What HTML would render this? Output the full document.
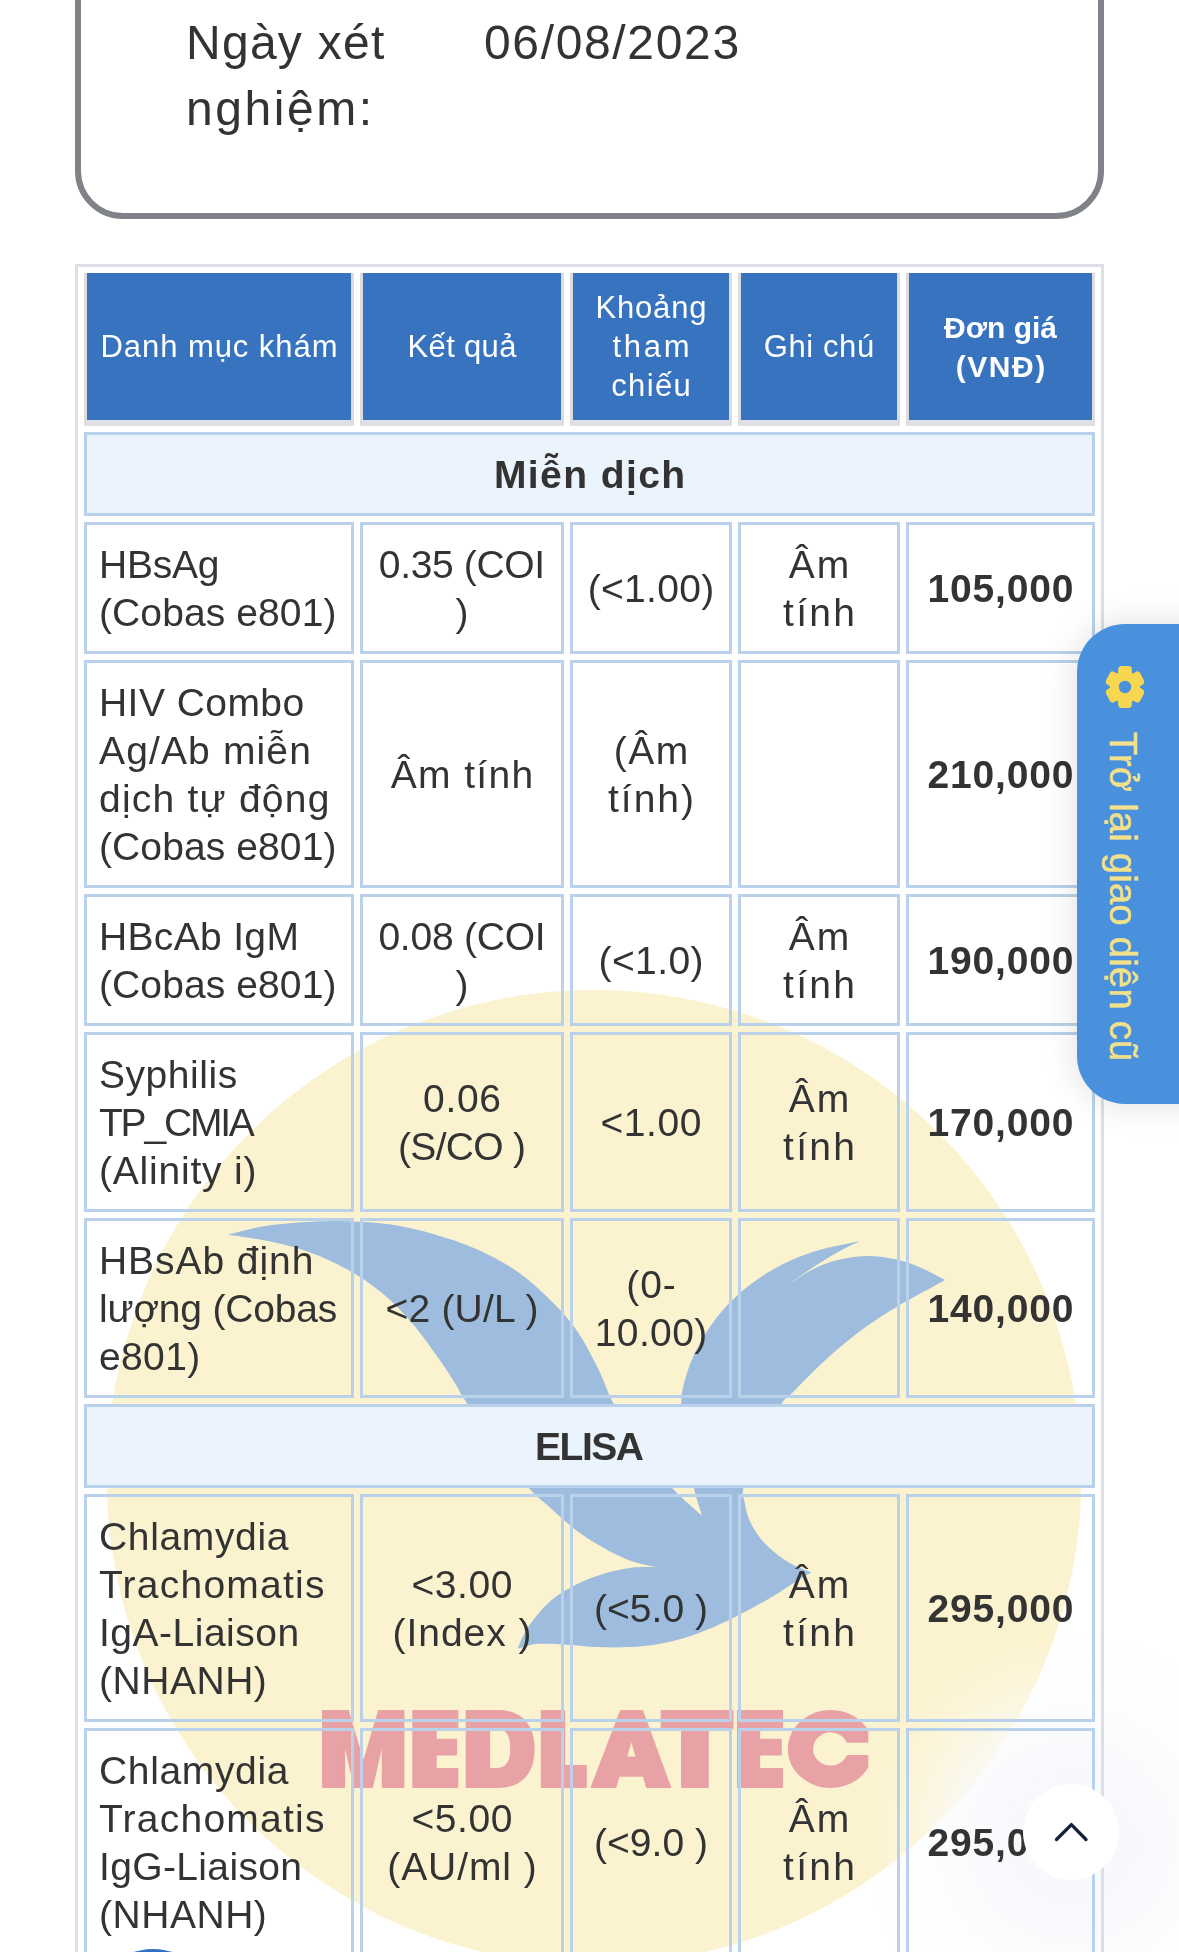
<!DOCTYPE html>
<html lang="vi">
<head>
<meta charset="utf-8">
<title>Kết quả xét nghiệm</title>
<style>
html,body{margin:0;padding:0;width:1179px;height:1952px;overflow:hidden;background:#fff;}
#page{width:1179px;height:1952px;overflow:hidden;background:#fff;position:relative;
  font-family:"Liberation Sans",sans-serif;color:#333;}
.card{position:absolute;left:75px;top:-120px;width:1017px;height:327px;border:6px solid #7f8388;border-radius:48px;background:#fff;}
.lbl{will-change:transform;position:absolute;left:186px;top:10px;font-size:48px;line-height:66px;color:#333;white-space:nowrap;}
.val{will-change:transform;position:absolute;left:484px;top:10px;font-size:48px;line-height:66px;color:#333;white-space:nowrap;}
.wm{position:absolute;left:0;top:0;width:1179px;height:1952px;z-index:0;}
table.rs{position:absolute;left:75px;top:264px;width:1029px;border:3px solid #dcdfe6;border-collapse:separate;border-spacing:6px;table-layout:fixed;z-index:1;will-change:transform;}
table.rs th{background:#3773be;color:#fff;font-weight:normal;font-size:31px;line-height:39px;padding:15px 0 15px 0;
  border-style:solid;border-color:#dcdcdc;border-width:0 3px 6px 3px;border-bottom-color:#dee0e6;height:117px;vertical-align:middle;text-align:center;white-space:nowrap;}
table.rs th.b{font-weight:bold;font-size:30px;}
table.rs td{font-size:39px;line-height:48px;padding:16px 0 14px 0;border:3px solid #b9d1ea;vertical-align:middle;text-align:center;color:#333;white-space:nowrap;}
table.rs td.n{text-align:left;padding-left:12px;}
table.rs td.p{font-weight:bold;}
table.rs td.sec{background:#ebf3fd;font-weight:bold;}
.l{display:inline-block;white-space:nowrap;}
.tab{position:absolute;left:1077px;top:624px;width:130px;height:480px;background:#4990dd;border-radius:48px 0 0 48px;z-index:5;
  box-shadow:0 0 36px rgba(0,0,0,0.13);}
.tab .t{position:absolute;left:24px;top:108px;writing-mode:vertical-rl;font-size:38px;line-height:44px;color:#f1e08c;white-space:nowrap;letter-spacing:0.3px;-webkit-text-stroke:0.5px #f1e08c;}
.tab svg{position:absolute;left:24px;top:39px;}
.up{position:absolute;left:1023px;top:1784px;width:96px;height:96px;border-radius:50%;background:#fff;z-index:6;}
.up svg{position:absolute;left:0;top:0;}
.glow{position:absolute;left:866px;top:1636px;width:410px;height:410px;z-index:0;
  background:radial-gradient(circle closest-side at center,rgba(247,248,251,1) 0,rgba(248,249,252,0.97) 38%,rgba(250,251,253,0.66) 60%,rgba(253,253,254,0.22) 80%,rgba(255,255,255,0) 100%);}
.chat{position:absolute;left:93px;top:1949px;width:120px;height:120px;border-radius:50%;background:#2f6fc4;z-index:6;}
</style>
</head>
<body>
<div id="page">
<div class="card"></div>
<div class="lbl"><span class="l" style="letter-spacing:1.26px;margin-right:-1.26px">Ngày xét</span><br><span class="l" style="letter-spacing:2.56px;margin-right:-2.56px">nghiệm:</span></div>
<div class="val"><span class="l" style="letter-spacing:1.65px;margin-right:-1.65px">06/08/2023</span></div>

<svg class="wm" viewBox="0 0 1179 1952">
  <circle cx="594" cy="1477.5" r="487.5" fill="#fbf3d0"/>
  <path fill="#9dbcde" d="M227.6 1234.8C233.6 1233.4 250.5 1228.4 263.6 1226.3C276.7 1224.2 291.9 1222.8 306.0 1222.0C320.1 1221.2 334.3 1220.8 348.4 1221.2C362.5 1221.6 376.7 1222.5 390.8 1224.6C404.9 1226.7 419.1 1229.9 433.2 1233.9C447.3 1237.9 461.6 1242.5 475.7 1248.8C489.8 1255.1 505.3 1263.2 518.0 1272.0C530.7 1280.8 542.1 1291.9 552.0 1301.8C561.9 1311.7 569.6 1320.2 577.4 1331.5C585.2 1342.8 592.6 1357.6 598.6 1369.6C604.6 1381.6 606.6 1390.7 613.5 1403.6C620.4 1416.5 630.2 1432.9 640.0 1447.0C649.8 1461.1 662.1 1476.8 672.5 1488.3C682.9 1499.8 697.2 1511.2 702.1 1515.8C700.7 1511.2 696.9 1500.9 693.9 1488.3C690.9 1475.7 686.1 1454.2 684.0 1440.0C681.9 1425.8 680.9 1413.5 681.2 1403.0C681.5 1392.5 683.2 1385.9 685.8 1377.0C688.3 1368.1 691.9 1358.8 696.5 1349.6C701.1 1340.4 706.9 1330.7 713.3 1322.0C719.7 1313.3 726.6 1305.3 734.7 1297.7C742.8 1290.1 752.3 1282.7 762.0 1276.3C771.7 1269.9 782.5 1264.1 792.7 1259.5C802.9 1254.9 812.0 1252.0 823.2 1248.9C834.4 1245.9 853.7 1242.5 859.8 1241.2C855.7 1243.2 843.5 1248.8 835.4 1253.4C827.3 1258.0 819.0 1263.4 811.0 1268.7C803.0 1274.0 791.2 1282.7 787.2 1285.5C791.2 1283.0 803.0 1274.4 811.0 1270.2C819.0 1266.0 826.2 1262.9 835.4 1260.5C844.6 1258.1 855.8 1256.1 866.0 1255.9C876.2 1255.7 887.4 1257.5 896.5 1259.5C905.6 1261.5 912.8 1264.4 920.9 1267.8C929.0 1271.2 941.2 1278.0 945.3 1280.0C941.8 1281.9 932.1 1287.1 924.0 1291.6C915.9 1296.1 906.2 1301.1 896.5 1306.9C886.8 1312.8 876.2 1319.3 866.0 1326.7C855.8 1334.1 844.6 1343.2 835.4 1351.1C826.2 1359.0 818.1 1367.1 811.0 1374.0C803.9 1380.9 797.5 1387.6 792.7 1392.4C787.9 1397.2 788.3 1394.2 782.0 1403.0C775.7 1411.8 761.4 1430.8 755.0 1445.0C748.6 1459.2 745.2 1479.0 743.4 1488.3C741.6 1497.5 743.4 1495.4 744.3 1500.5C745.2 1505.6 746.4 1512.8 748.9 1518.9C751.4 1525.0 755.2 1531.6 759.5 1537.2C763.8 1542.8 769.2 1547.8 774.8 1552.4C780.4 1557.0 787.0 1561.4 793.1 1564.7C799.2 1568.0 808.4 1571.0 811.5 1572.3C809.0 1573.8 802.3 1577.7 796.2 1581.5C790.1 1585.3 782.4 1590.6 774.8 1595.2C767.2 1599.8 759.6 1604.1 750.4 1608.9C741.2 1613.7 730.0 1619.6 719.8 1624.2C709.6 1628.8 699.5 1633.1 689.3 1636.4C679.1 1639.7 669.0 1642.2 658.8 1644.0C648.6 1645.8 638.4 1646.6 628.2 1647.1C618.0 1647.6 607.9 1647.5 597.7 1647.1C587.5 1646.7 577.4 1645.2 567.2 1644.7C557.0 1644.2 544.9 1643.3 536.6 1644.0C528.4 1644.7 520.9 1647.8 517.7 1648.6C518.6 1646.6 520.2 1641.2 522.9 1636.4C525.5 1631.6 528.8 1625.7 533.6 1619.6C538.4 1613.5 544.8 1605.6 551.9 1599.8C559.0 1594.0 567.6 1588.8 576.3 1584.5C584.9 1580.2 594.6 1576.6 603.8 1573.8C613.0 1571.0 622.6 1568.8 631.3 1567.7C639.9 1566.6 651.6 1567.2 655.7 1567.1C651.1 1565.9 637.4 1563.5 628.2 1560.0C619.1 1556.5 609.9 1551.6 600.8 1546.3C591.6 1541.0 581.9 1534.6 573.3 1528.0C564.6 1521.4 556.3 1513.2 548.9 1506.6C541.5 1500.0 538.0 1498.6 529.0 1488.3C520.0 1478.0 505.3 1459.1 495.0 1445.0C484.7 1430.9 473.9 1414.0 467.2 1403.6C460.4 1393.2 459.4 1390.2 454.5 1382.4C449.6 1374.6 444.6 1366.8 437.5 1356.9C430.4 1347.0 421.2 1333.6 412.0 1323.0C402.8 1312.4 393.0 1302.1 382.4 1293.3C371.8 1284.5 361.1 1277.1 348.4 1270.0C335.7 1262.9 320.1 1255.9 306.0 1250.9C291.9 1246.0 276.7 1243.0 263.6 1240.3C250.5 1237.6 233.6 1235.7 227.6 1234.8Z"/>
  <g fill="#e8a2a6" fill-rule="evenodd" stroke="#e8a2a6" stroke-width="6" stroke-linejoin="round">
    <g transform="translate(310,1695) scale(0.254453)"><path d="M50 62 L150 62 L210 265 L270 62 L368 62 L368 362 L285 362 L285 185 L245 362 L175 362 L135 185 L135 362 L50 362ZM405 62 L580 62 L580 130 L495 130 L495 175 L575 175 L575 235 L495 235 L495 290 L580 290 L580 362 L405 362ZM615 62L740 62C840 62 880 130 880 212C880 295 840 362 740 362L615 362ZM705 130L735 130C775 130 790 165 790 212C790 260 775 290 735 290L705 290ZM910 62 L1000 62 L1000 278 L1085 278 L1085 362 L910 362Z"/></g>
    <g transform="translate(580,1695) scale(0.254453)"><path d="M45 362 L160 62 L245 62 L355 362 L262 362 L250 318 L153 318 L140 362ZM202 175 L222 245 L182 245ZM320 62 L600 62 L600 132 L503 132 L503 362 L400 362 L400 132 L320 132ZM620 62 L795 62 L795 130 L705 130 L705 175 L790 175 L790 235 L705 235 L705 290 L795 290 L795 362 L620 362ZM1130 185L1051 185A72 68 0 1 0 1051 239L1130 239L1130 283.6A165 150 0 1 1 1130 140.4Z"/></g>
  </g>
</svg>
<div class="glow"></div>

<table class="rs">
<colgroup><col style="width:270px"><col style="width:204px"><col style="width:162px"><col style="width:162px"><col style="width:189px"></colgroup>
<tr><th><span class="l" style="letter-spacing:0.94px;margin-right:-0.94px">Danh mục khám</span></th><th><span class="l" style="letter-spacing:0.34px;margin-right:-0.34px">Kết quả</span></th><th><span class="l" style="letter-spacing:0.80px;margin-right:-0.80px">Khoảng</span><br><span class="l" style="letter-spacing:2.74px;margin-right:-2.74px">tham</span><br><span class="l" style="letter-spacing:1.36px;margin-right:-1.36px">chiếu</span></th><th><span class="l" style="letter-spacing:0.60px;margin-right:-0.60px">Ghi chú</span></th><th class="b"><span class="l">Đơn giá</span><br><span class="l" style="letter-spacing:1.50px;margin-right:-1.50px">(VNĐ)</span></th></tr>
<tr><td class="sec" colspan="5"><span class="l" style="letter-spacing:1.42px;margin-right:-1.42px">Miễn dịch</span></td></tr>
<tr><td class="n"><span class="l" style="letter-spacing:-0.25px;margin-right:0.25px">HBsAg</span><br><span class="l" style="letter-spacing:0.10px;margin-right:-0.10px">(Cobas e801)</span></td><td><span class="l" style="letter-spacing:-0.33px;margin-right:0.33px">0.35 (COI</span><br><span class="l">)</span></td><td><span class="l" style="letter-spacing:0.34px;margin-right:-0.34px">(&lt;1.00)</span></td><td><span class="l" style="letter-spacing:2.00px;margin-right:-2.00px">Âm</span><br><span class="l" style="letter-spacing:2.26px;margin-right:-2.26px">tính</span></td><td class="p"><span class="l" style="letter-spacing:0.83px;margin-right:-0.83px">105,000</span></td></tr>
<tr><td class="n"><span class="l" style="letter-spacing:0.45px;margin-right:-0.45px">HIV Combo</span><br><span class="l" style="letter-spacing:1.14px;margin-right:-1.14px">Ag/Ab miễn</span><br><span class="l" style="letter-spacing:1.22px;margin-right:-1.22px">dịch tự động</span><br><span class="l" style="letter-spacing:0.10px;margin-right:-0.10px">(Cobas e801)</span></td><td><span class="l" style="letter-spacing:1.37px;margin-right:-1.37px">Âm tính</span></td><td><span class="l" style="letter-spacing:1.40px;margin-right:-1.40px">(Âm</span><br><span class="l" style="letter-spacing:2.04px;margin-right:-2.04px">tính)</span></td><td></td><td class="p"><span class="l" style="letter-spacing:0.83px;margin-right:-0.83px">210,000</span></td></tr>
<tr><td class="n"><span class="l" style="letter-spacing:0.33px;margin-right:-0.33px">HBcAb IgM</span><br><span class="l" style="letter-spacing:0.10px;margin-right:-0.10px">(Cobas e801)</span></td><td><span class="l" style="letter-spacing:-0.23px;margin-right:0.23px">0.08 (COI</span><br><span class="l">)</span></td><td><span class="l" style="letter-spacing:0.40px;margin-right:-0.40px">(&lt;1.0)</span></td><td><span class="l" style="letter-spacing:2.00px;margin-right:-2.00px">Âm</span><br><span class="l" style="letter-spacing:2.26px;margin-right:-2.26px">tính</span></td><td class="p"><span class="l" style="letter-spacing:0.83px;margin-right:-0.83px">190,000</span></td></tr>
<tr><td class="n"><span class="l" style="letter-spacing:0.55px;margin-right:-0.55px">Syphilis</span><br><span class="l" style="letter-spacing:-2.20px;margin-right:2.20px">TP_CMIA</span><br><span class="l" style="letter-spacing:0.80px;margin-right:-0.80px">(Alinity i)</span></td><td><span class="l" style="letter-spacing:0.67px;margin-right:-0.67px">0.06</span><br><span class="l" style="letter-spacing:-0.73px;margin-right:0.73px">(S/CO )</span></td><td><span class="l" style="letter-spacing:0.61px;margin-right:-0.61px">&lt;1.00</span></td><td><span class="l" style="letter-spacing:2.00px;margin-right:-2.00px">Âm</span><br><span class="l" style="letter-spacing:2.26px;margin-right:-2.26px">tính</span></td><td class="p"><span class="l" style="letter-spacing:0.83px;margin-right:-0.83px">170,000</span></td></tr>
<tr><td class="n"><span class="l" style="letter-spacing:0.94px;margin-right:-0.94px">HBsAb định</span><br><span class="l" style="letter-spacing:-0.18px;margin-right:0.18px">lượng (Cobas</span><br><span class="l" style="letter-spacing:0.36px;margin-right:-0.36px">e801)</span></td><td><span class="l" style="letter-spacing:0.20px;margin-right:-0.20px">&lt;2 (U/L )</span></td><td><span class="l" style="letter-spacing:0.80px;margin-right:-0.80px">(0-</span><br><span class="l" style="letter-spacing:0.40px;margin-right:-0.40px">10.00)</span></td><td></td><td class="p"><span class="l" style="letter-spacing:0.83px;margin-right:-0.83px">140,000</span></td></tr>
<tr><td class="sec" colspan="5"><span class="l" style="letter-spacing:-1.50px;margin-right:1.50px">ELISA</span></td></tr>
<tr><td class="n"><span class="l" style="letter-spacing:0.65px;margin-right:-0.65px">Chlamydia</span><br><span class="l" style="letter-spacing:1.24px;margin-right:-1.24px">Trachomatis</span><br><span class="l" style="letter-spacing:0.50px;margin-right:-0.50px">IgA-Liaison</span><br><span class="l" style="letter-spacing:0.53px;margin-right:-0.53px">(NHANH)</span></td><td><span class="l" style="letter-spacing:0.61px;margin-right:-0.61px">&lt;3.00</span><br><span class="l" style="letter-spacing:1.00px;margin-right:-1.00px">(Index )</span></td><td><span class="l">(&lt;5.0 )</span></td><td><span class="l" style="letter-spacing:2.00px;margin-right:-2.00px">Âm</span><br><span class="l" style="letter-spacing:2.26px;margin-right:-2.26px">tính</span></td><td class="p"><span class="l" style="letter-spacing:0.84px;margin-right:-0.84px">295,000</span></td></tr>
<tr><td class="n"><span class="l" style="letter-spacing:0.65px;margin-right:-0.65px">Chlamydia</span><br><span class="l" style="letter-spacing:1.24px;margin-right:-1.24px">Trachomatis</span><br><span class="l" style="letter-spacing:0.36px;margin-right:-0.36px">IgG-Liaison</span><br><span class="l" style="letter-spacing:0.53px;margin-right:-0.53px">(NHANH)</span></td><td><span class="l" style="letter-spacing:0.61px;margin-right:-0.61px">&lt;5.00</span><br><span class="l" style="letter-spacing:0.92px;margin-right:-0.92px">(AU/ml )</span></td><td><span class="l">(&lt;9.0 )</span></td><td><span class="l" style="letter-spacing:2.00px;margin-right:-2.00px">Âm</span><br><span class="l" style="letter-spacing:2.26px;margin-right:-2.26px">tính</span></td><td class="p"><span class="l" style="letter-spacing:0.84px;margin-right:-0.84px">295,000</span></td></tr>
</table>

<div class="tab">
  <svg width="48" height="48" viewBox="-24 -24 48 48"><g fill="#f7d650" transform="scale(0.95,1.02)"><circle r="15.8"/>
    <rect x="-7.2" y="-20.6" width="14.4" height="12" rx="3.6"/>
    <rect x="-7.2" y="-20.6" width="14.4" height="12" rx="3.6" transform="rotate(60)"/>
    <rect x="-7.2" y="-20.6" width="14.4" height="12" rx="3.6" transform="rotate(120)"/>
    <rect x="-7.2" y="-20.6" width="14.4" height="12" rx="3.6" transform="rotate(180)"/>
    <rect x="-7.2" y="-20.6" width="14.4" height="12" rx="3.6" transform="rotate(240)"/>
    <rect x="-7.2" y="-20.6" width="14.4" height="12" rx="3.6" transform="rotate(300)"/></g>
    <circle r="6.2" fill="#4990dd"/></svg>
  <div class="t">Trở lại giao diện cũ</div>
</div>
<div class="up"><svg width="96" height="96" viewBox="0 0 96 96"><path d="M33.5 55.5L48.4 40.6L63 55.5" fill="none" stroke="#14213a" stroke-width="3.3" stroke-linecap="round" stroke-linejoin="round"/></svg></div>
<div class="chat"></div>
</div>
</body>
</html>
